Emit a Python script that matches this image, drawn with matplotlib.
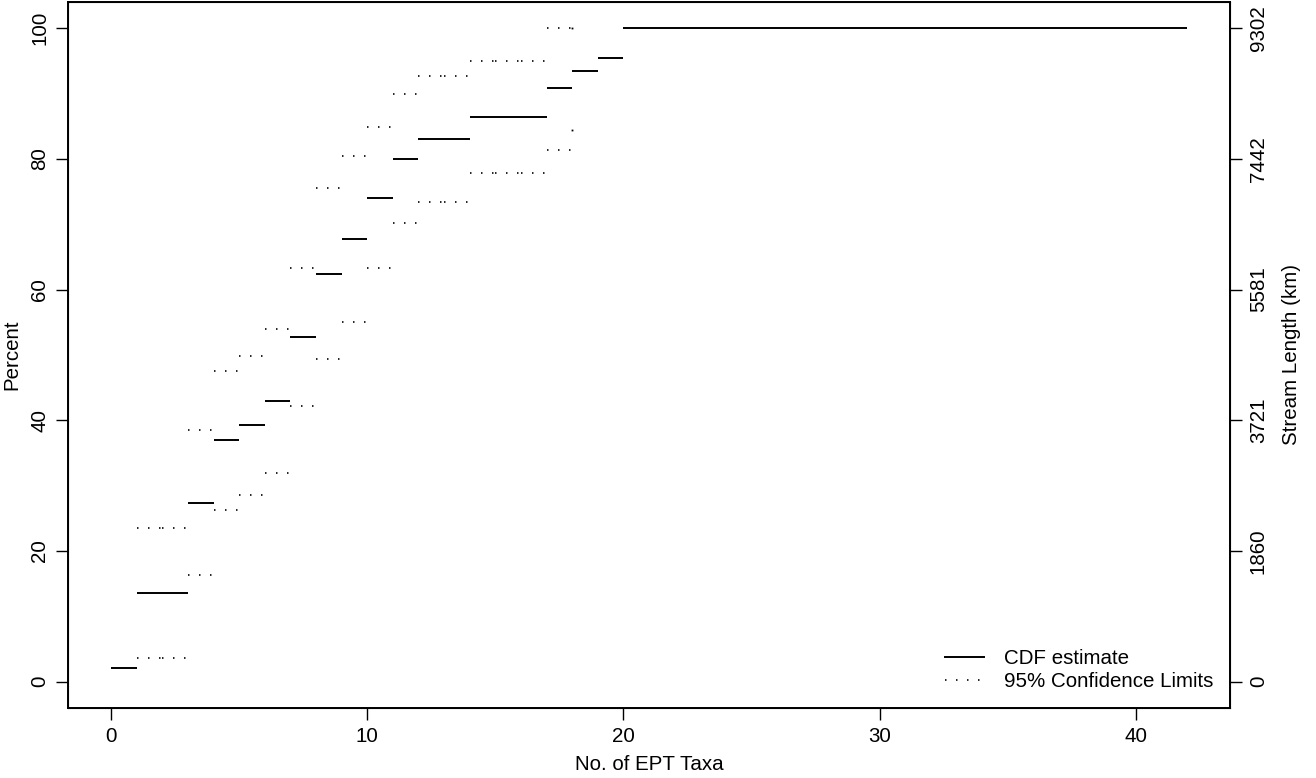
import numpy as np
import matplotlib
matplotlib.use("Agg")
import matplotlib.pyplot as plt
from matplotlib.lines import Line2D

plt.rcParams['font.family'] = ['Liberation Sans', 'DejaVu Sans']

# CDF of number of EPT taxa, one step per distinct value
taxa = [0, 1, 2, 3, 4, 5, 6, 7, 8, 9, 10, 11, 12, 13, 14, 15, 16, 17, 18, 19, 20, 42]
cdf_pct = [2.1, 13.5, 13.5, 27.4, 36.9, 39.2, 43.0, 52.8, 62.4, 67.8, 74.0,
           80.0, 83.1, 83.1, 86.45, 86.45, 86.45, 90.9, 93.5, 95.45, 100.0]

# 95% confidence limits (start, stop, lower, upper)
ci_start = [1, 2, 3, 4, 5, 6, 7, 8, 9, 10, 11, 12, 13, 14, 15, 16, 17, 18]
ci_stop = [2, 3, 4, 5, 6, 7, 8, 9, 10, 11, 12, 13, 14, 15, 16, 17, 18, 18]
ci_lower = [3.55, 3.55, 16.3, 26.3, 28.6, 31.9, 42.2, 49.3, 55.1, 63.3, 70.2,
            73.4, 73.4, 77.9, 77.9, 77.9, 81.3, 84.35]
ci_upper = [23.5, 23.5, 38.5, 47.5, 49.8, 54.0, 63.3, 75.5, 80.5, 84.8, 89.9,
            92.6, 92.6, 95.0, 95.0, 95.0, 100.0, 100.0]

pct_ticks = [0, 20, 40, 60, 80, 100]
km_labels = ["0", "1860", "3721", "5581", "7442", "9302"]

fs = 14.8
fig = plt.figure(figsize=(13.16, 7.78), dpi=100)
ax = fig.add_axes([68 / 1316, 1 - 707.7 / 778, (1230 - 68) / 1316, (707.7 - 2) / 778])

lw = 1.4
dot = (0, (0.9, 5.7))

for i in range(len(cdf_pct)):
    ax.plot([taxa[i], taxa[i + 1]], [cdf_pct[i], cdf_pct[i]], color="black",
            lw=lw, solid_capstyle="butt")

for x0, x1, lo, hi in zip(ci_start, ci_stop, ci_lower, ci_upper):
    if x1 > x0:
        for y in (lo, hi):
            ax.plot([x0, x1], [y, y], color="black", lw=1.2, linestyle=dot,
                    dash_capstyle="butt")
    else:
        ax.plot([x0, x0], [lo, hi], linestyle="none", marker="s", ms=1.3,
                color="black", mew=0)

ax.set_xlim(-1.68, 43.68)
ax.set_ylim(-4, 104)
ax.set_xticks([0, 10, 20, 30, 40])
ax.set_yticks(pct_ticks)
ax.tick_params(direction="out", length=8.6, width=1.0, labelsize=fs, pad=5)
for lab in ax.get_yticklabels():
    lab.set_rotation(90)
    lab.set_va("center")
ax.set_xlabel("No. of EPT Taxa", fontsize=fs, labelpad=7)
ax.set_ylabel("Percent", fontsize=fs, labelpad=6)
for s in ax.spines.values():
    s.set_linewidth(1.4)

ax2 = ax.twinx()
ax2.set_ylim(-4, 104)
ax2.set_yticks(pct_ticks)
ax2.set_yticklabels(km_labels, rotation=90, va="center")
ax2.tick_params(direction="out", length=8.6, width=1.0, labelsize=fs, pad=5)
ax2.set_ylabel("Stream Length (km)", fontsize=fs, labelpad=10)

handles = [Line2D([], [], color="black", lw=lw),
           Line2D([], [], color="black", lw=1.2, linestyle=dot)]
ax.legend(handles, ["CDF estimate", "95% Confidence Limits"], loc="lower right",
          frameon=False, fontsize=fs, handlelength=1.9, handletextpad=1.0,
          labelspacing=0.2, borderaxespad=0.4)

fig.savefig("out.png", dpi=100)
